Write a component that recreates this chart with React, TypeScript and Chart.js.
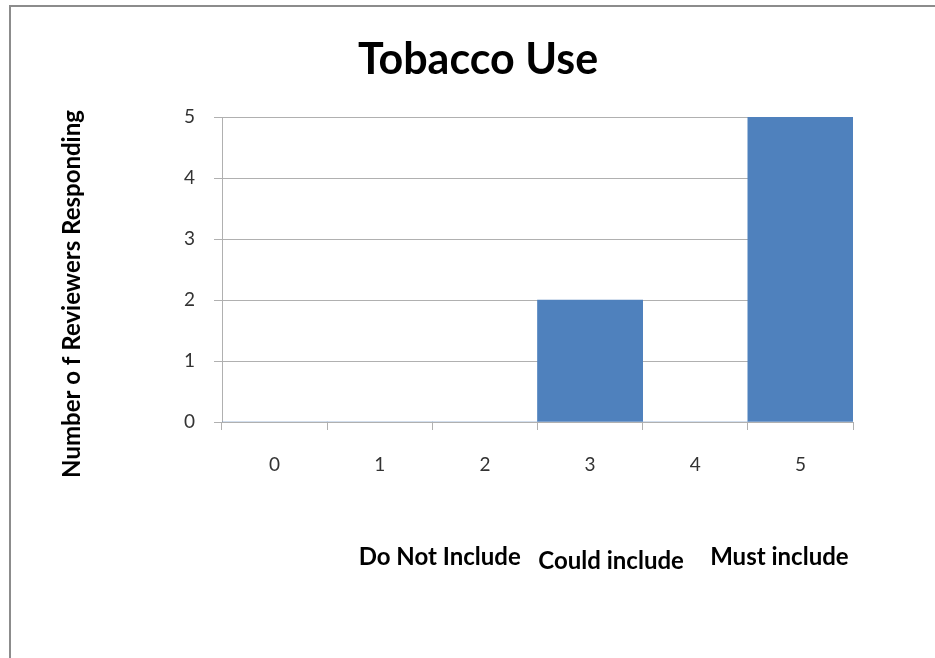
import React, { useEffect, useRef } from 'react';
import { Chart, registerables } from 'chart.js';

Chart.register(...registerables);

const categories = ['0', '1', '2', '3', '4', '5'];
const responses = [0, 0, 0, 2, 0, 5];
const yMin = 0;
const yMax = 5;
const yStep = 1;
const chartTitle = 'Tobacco Use';
const yAxisTitle = 'Number o f Reviewers Responding';
const groupLabels = ['Do Not Include', 'Could include', 'Must include'];

const FONT = 'Lato, "Open Sans", sans-serif';

const textPlugin = {
  id: 'extraText',
  afterDraw(chart: any) {
    const ctx = chart.ctx;
    const x = chart.scales.x;
    ctx.save();
    ctx.fillStyle = '#000';
    ctx.textAlign = 'center';
    ctx.textBaseline = 'middle';
    ctx.font = `bold 43px ${FONT}`;
    ctx.fillText(chartTitle, 478, 60);

    ctx.save();
    ctx.translate(72, 294);
    ctx.rotate(-Math.PI / 2);
    ctx.font = `bold 24px ${FONT}`;
    ctx.fillText(yAxisTitle, 0, 0);
    ctx.restore();

    ctx.font = `bold 24px ${FONT}`;
    const anchors = [1.57, 3.2, 4.8];
    const dy = [557, 561, 557];
    groupLabels.forEach((t, i) => {
      ctx.fillText(t, x.getPixelForValue(anchors[i]), dy[i]);
    });
    ctx.restore();
  },
};

export default function App() {
  const ref = useRef<HTMLCanvasElement>(null);
  useEffect(() => {
    if (!ref.current) return;
    const gridColor = '#b0b0b0';
    const chart = new Chart(ref.current, {
      type: 'bar',
      data: {
        labels: categories,
        datasets: [
          {
            data: responses,
            backgroundColor: '#4F81BD',
            borderWidth: 0,
            barPercentage: 1,
            categoryPercentage: 1,
          },
        ],
      },
      options: {
        responsive: false,
        animation: false,
        events: [],
        layout: { padding: { left: 0, top: 117, right: 82, bottom: 0 } },
        plugins: {
          legend: { display: false },
          title: { display: false },
          tooltip: { enabled: false },
        },
        scales: {
          x: {
            afterFit: (s: any) => {
              s.height = 236;
            },
            grid: {
              display: true,
              drawOnChartArea: false,
              drawTicks: true,
              tickLength: 8,
              color: gridColor,
              offset: true,
            },
            border: { display: true, color: gridColor, width: 1 },
            ticks: {
              color: '#333',
              font: { family: FONT, size: 19 },
              padding: 23,
              maxRotation: 0,
            },
          },
          y: {
            min: yMin,
            max: yMax,
            afterFit: (s: any) => {
              s.width = 222;
            },
            grid: {
              color: gridColor,
              drawTicks: true,
              tickLength: 8,
            },
            border: { display: true, color: gridColor, width: 1 },
            ticks: {
              stepSize: yStep,
              color: '#333',
              font: { family: FONT, size: 19 },
              padding: 19,
            },
          },
        },
      },
      plugins: [textPlugin],
    });
    return () => chart.destroy();
  }, []);
  return (
    <div style={{ position: 'absolute', left: 0, top: 0, width: 935, height: 658, overflow: 'hidden', background: '#fff' }}>
      <div
        style={{
          position: 'absolute',
          left: 9,
          top: 5,
          width: 1000,
          height: 1000,
          borderLeft: '2px solid #8c8c8c',
          borderTop: '2px solid #8c8c8c',
        }}
      />
      <canvas ref={ref} width={935} height={658} style={{ position: 'absolute', left: 0, top: 0, width: 935, height: 658 }} />
    </div>
  );
}
